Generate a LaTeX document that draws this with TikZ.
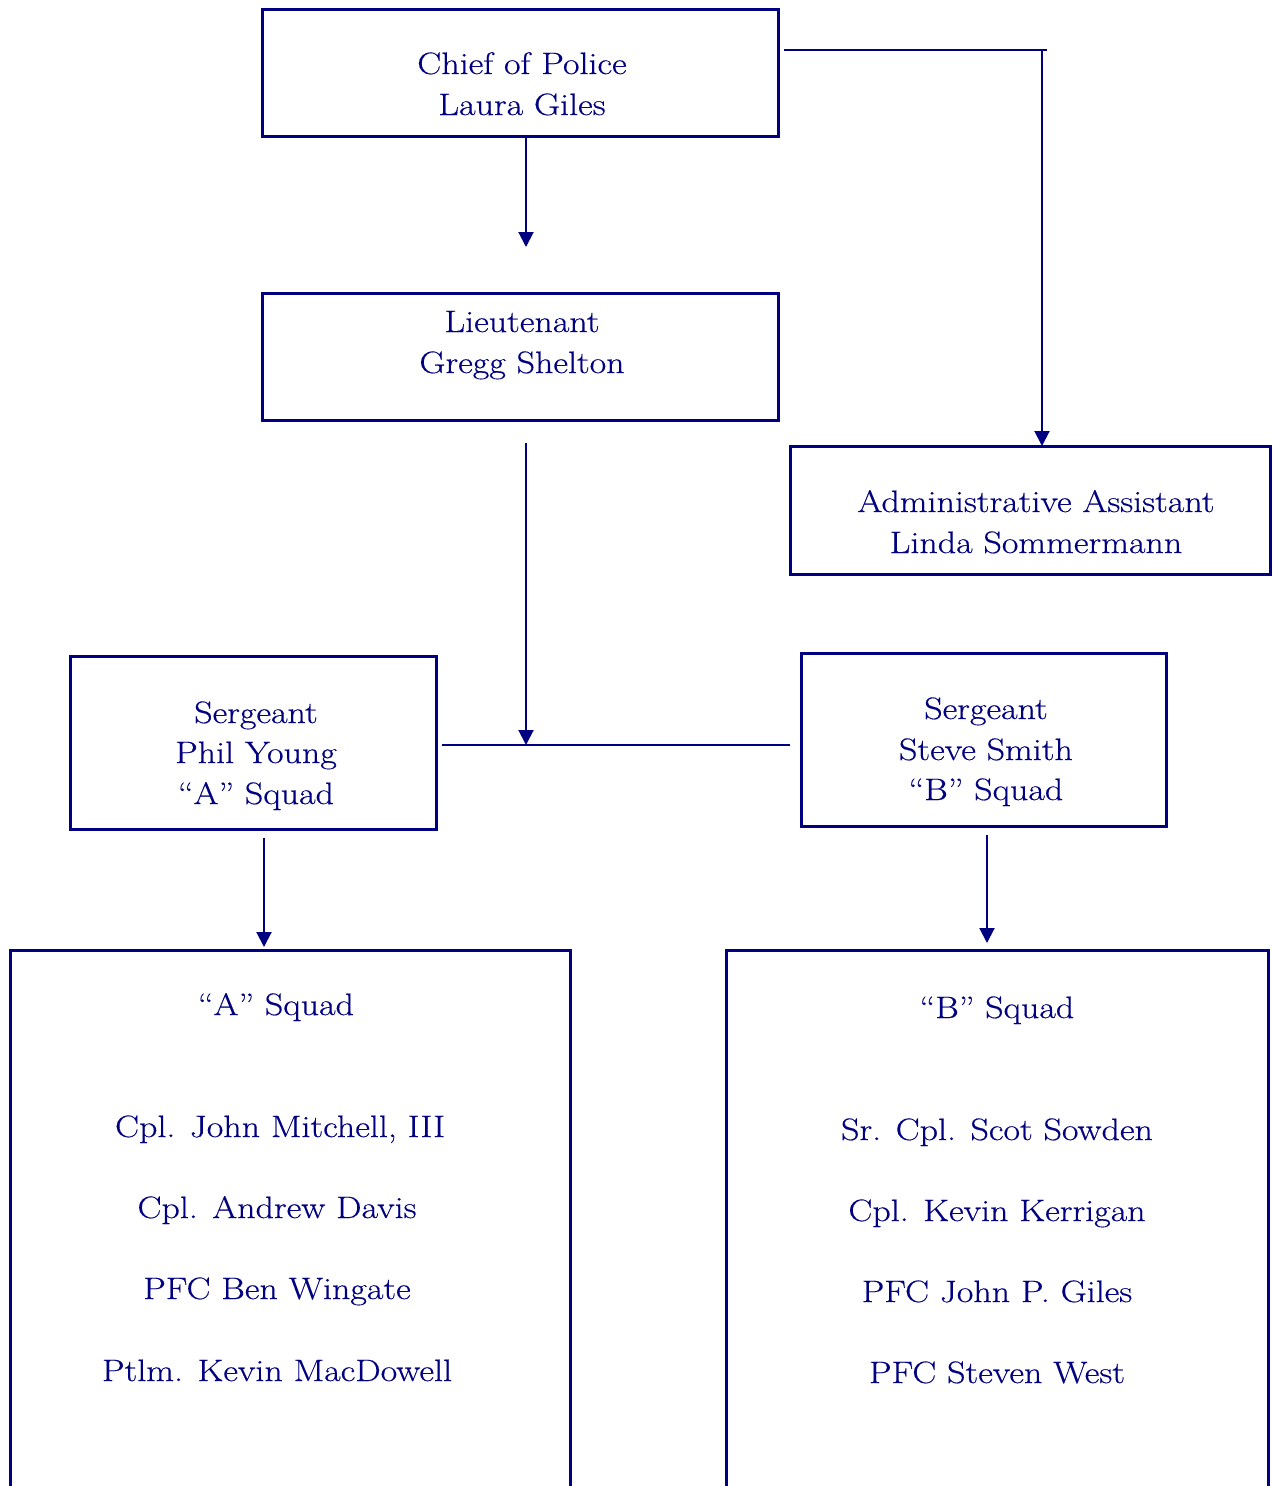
\documentclass[tikz,border=0pt]{standalone}
\usepackage{fontspec}
\setmainfont{Latin Modern Roman}[FakeStretch=1.16,FakeBold=0.4]
\usetikzlibrary{arrows.meta}
\definecolor{navy}{RGB}{0,0,128}
\begin{document}
\begin{tikzpicture}[x=1pt,y=-1pt,
  box/.style={draw=navy,line width=3pt,minimum width=#1},
  lbl/.style={text=navy,anchor=base,inner sep=0pt,font=\fontsize{31}{41}\selectfont},
  conn/.style={draw=navy,line width=2pt},
  arr/.style={conn,-{Triangle[width=15pt,length=15pt]}}]
\clip (0,0) rectangle (1272,1486);
\fill[white] (0,0) rectangle (1272,1486);
% boxes
\node[box=516pt,minimum height=127pt] (chief) at (520,72.5) {};
\node[box=516pt,minimum height=127pt] (lt) at (520,356.5) {};
\node[box=480pt,minimum height=128pt] (admin) at (1030,510) {};
\node[box=366pt,minimum height=173pt] (sgta) at (253,742.5) {};
\node[box=365pt,minimum height=173pt] (sgtb) at (983.5,739.5) {};
\node[box=560pt,minimum height=600pt] (sqa) at (290,1250) {};
\node[box=542pt,minimum height=600pt] (sqb) at (997,1250) {};
% texts
\node[lbl] (t1) at (522,74) {Chief of Police};
\node[lbl] (t2) at (522,115) {Laura Giles};
\node[lbl] (t3) at (522,332) {Lieutenant};
\node[lbl] (t4) at (522,373) {Gregg Shelton};
\node[lbl] (t5) at (1036,512) {Administrative Assistant};
\node[lbl] (t6) at (1036,553) {Linda Sommermann};
\node[lbl] (t7) at (256,723) {Sergeant};
\node[lbl] (t8) at (256,763) {Phil Young};
\node[lbl] (t9) at (256,804) {“A” Squad};
\node[lbl] (t10) at (986,719) {Sergeant};
\node[lbl] (t11) at (986,760) {Steve Smith};
\node[lbl] (t12) at (986,800) {“B” Squad};
\node[lbl] (a0) at (276,1015) {“A” Squad};
\node[lbl] (a1) at (280,1137) {Cpl. John Mitchell, III};
\node[lbl] (a2) at (277,1218) {Cpl. Andrew Davis};
\node[lbl] (a3) at (277,1299) {PFC Ben Wingate};
\node[lbl] (a4) at (277,1381) {Ptlm. Kevin MacDowell};
\node[lbl] (b0) at (997,1018) {“B” Squad};
\node[lbl] (b1) at (997,1140) {Sr. Cpl. Scot Sowden};
\node[lbl] (b2) at (997,1221) {Cpl. Kevin Kerrigan};
\node[lbl] (b3) at (997,1302) {PFC John P. Giles};
\node[lbl] (b4) at (997,1383) {PFC Steven West};
% connector coordinates
\coordinate (c1s) at (526,138);
\coordinate (c1e) at (526,247);
\coordinate (c2s) at (784,50);
\coordinate (c2m) at (1047,50);
\coordinate (c2v) at (1042,50);
\coordinate (c2e) at (1042,446);
\coordinate (c3s) at (526,443);
\coordinate (c3e) at (526,745);
\coordinate (hl) at (442,745);
\coordinate (hr) at (790,745);
\coordinate (c4s) at (264,838);
\coordinate (c4e) at (264,947);
\coordinate (c5s) at (987,835);
\coordinate (c5e) at (987,943);
% connectors
\draw[arr] (c1s) -- (c1e);
\draw[conn] (c2s) -- (c2m);
\draw[arr] (c2v) -- (c2e);
\draw[arr] (c3s) -- (c3e);
\draw[conn] (hl) -- (hr);
\draw[arr] (c4s) -- (c4e);
\draw[arr] (c5s) -- (c5e);
\end{tikzpicture}
\end{document}
